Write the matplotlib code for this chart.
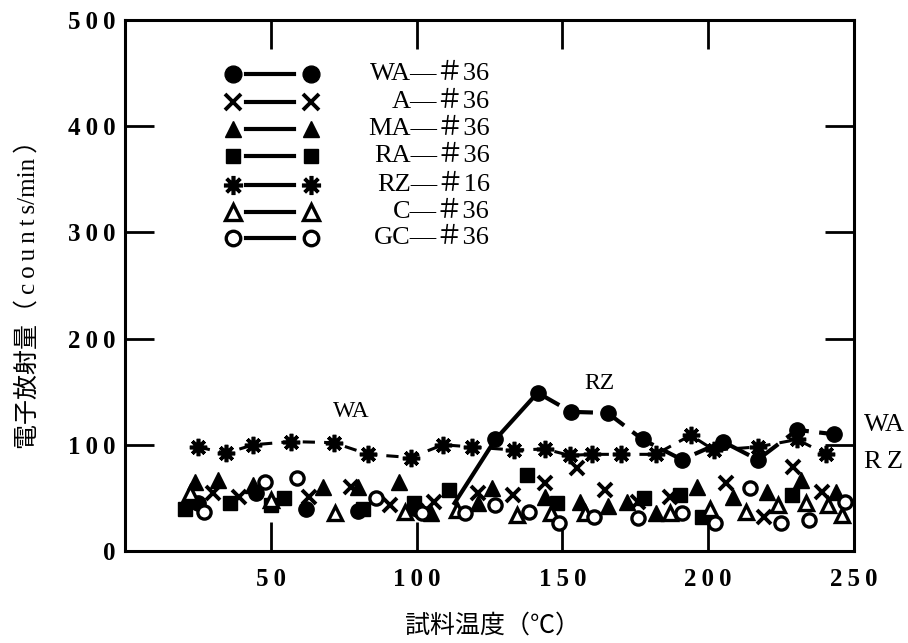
import matplotlib
matplotlib.use('Agg')
import matplotlib.pyplot as plt

plt.rcParams['font.family'] = ['Liberation Serif', 'Noto Sans CJK JP']

# --- data (temperature degC, counts/min) ---
wa_t = [25, 45, 62, 80, 100, 113, 127, 141.5, 153, 165.5, 177.5, 191, 205, 217, 230.5, 243]
wa_v = [45, 55, 40, 38, 40, 45, 105, 149, 131, 130, 105, 86, 103, 86, 114, 110]

rz_t = [25, 34.5, 44, 57, 71.5, 83.5, 98, 109, 119, 133.5, 144, 152.5, 160, 170, 182, 194, 202, 217, 230.5, 240.5]
rz_v = [98, 92, 100, 103, 102, 91, 88, 100, 98, 95, 96, 90, 91, 91, 91, 109, 95, 98, 105, 91]

a_t = [30, 39, 63, 77.6, 91, 106, 121, 133, 144, 155, 164.5, 176, 187, 206, 219, 229, 239]
a_v = [55, 51, 51, 60, 43, 46, 55, 53, 64, 78, 57, 46, 51, 64, 32, 79, 56]

ma_t = [24, 32, 44, 68, 80, 94, 105, 121, 126, 144, 156, 165.5, 172, 182, 196, 208.6, 220, 231.7, 244]
ma_v = [65, 67, 62, 60, 60, 65, 36, 45, 59, 51, 46, 42, 46, 36, 60, 51, 56, 67, 56]

ra_t = [20.7, 36, 50, 54.5, 81.7, 99, 111, 138, 148, 178, 190.5, 198, 228.6]
ra_v = [40, 45, 43, 50, 40, 45, 57, 72, 45, 50, 53, 32, 53]

c_t = [22.4, 50, 72, 96, 114, 134.5, 146, 157.6, 187, 200.7, 213, 224, 233.4, 241, 246]
c_v = [55, 48, 36, 37, 39, 34, 36, 36, 36, 40, 37, 43, 45, 43, 34]

gc_t = [27, 48, 59, 86, 102, 116.5, 127, 138.6, 149, 161, 176, 191, 202.4, 214.5, 225, 234.5, 247]
gc_v = [37, 65, 69, 50, 36, 36, 43, 37, 26, 32, 31, 36, 26, 59, 26, 29, 46]

legend_labels = ['WA\u2014＃36', 'A\u2014＃36', 'MA\u2014＃36', 'RA\u2014＃36',
                 'RZ\u2014＃16', 'C\u2014＃36', 'GC\u2014＃36']
xticks = [50, 100, 150, 200, 250]
yticks = [0, 100, 200, 300, 400, 500]

# marker styles
st_wa = dict(marker='o', ms=11, mfc='black', mec='black')
st_a = dict(marker='x', ms=10, mec='black', mew=2.8)
st_ma = dict(marker='^', ms=11, mfc='black', mec='black')
st_ra = dict(marker='s', ms=9.5, mfc='black', mec='black')
st_rz = dict(marker=(8, 2, 0), ms=12.5, mec='black', mew=2.6)
st_c = dict(marker='^', ms=10.5, mfc='white', mec='black', mew=2.4)
st_gc = dict(marker='o', ms=9.5, mfc='white', mec='black', mew=2.4)

fig = plt.figure(figsize=(9.08, 6.43), dpi=100)
ax = fig.add_axes([0.1377, 0.1431, 0.8028, 0.8258])

# low cluster, markers only
ax.plot(a_t, a_v, ls='none', zorder=3, **st_a)
ax.plot(ma_t, ma_v, ls='none', zorder=3, **st_ma)
ax.plot(ra_t, ra_v, ls='none', zorder=3, **st_ra)
ax.plot(c_t, c_v, ls='none', zorder=4, **st_c)
ax.plot(gc_t, gc_v, ls='none', zorder=4, **st_gc)

# WA: solid rise, then dashed
ax.plot(wa_t[:5], wa_v[:5], ls='none', zorder=3, **st_wa)
ax.plot(wa_t[5:8], wa_v[5:8], color='black', lw=3, zorder=5)
ax.plot(wa_t[7:], wa_v[7:], color='black', lw=3, dashes=(6, 2.5), zorder=5)
ax.plot(wa_t[6:], wa_v[6:], ls='none', zorder=6, **st_wa)

# RZ dashed with asterisks
ax.plot(rz_t, rz_v, color='black', lw=2.2, dashes=(4, 3), zorder=5, **st_rz)

# manual legend
leg_styles = [st_wa, st_a, st_ma, st_ra, st_rz, st_c, st_gc]
leg_y = [449, 422.6, 397, 371.7, 345, 319, 295]
for sty, yy, lab in zip(leg_styles, leg_y, legend_labels):
    s = dict(sty)
    s['ms'] = s['ms'] * 1.1
    ax.plot([41.4, 57.9], [yy, yy], color='black', lw=3)
    ax.plot([37.2, 63.8], [yy, yy], ls='none', **s)
    ax.text(125.2, yy, lab, ha='right', va='center', fontsize=19)

# annotations
ax.text(77.6, 131, 'WA', ha='center', va='center', fontsize=17)
ax.text(162.8, 158, 'RZ', ha='center', va='center', fontsize=17)
ax.text(253.4, 119, 'WA', ha='left', va='center', fontsize=19, clip_on=False)
ax.text(253.4, 84, 'R\u2009Z', ha='left', va='center', fontsize=19, clip_on=False)

ax.set_xlim(0, 250)
ax.set_ylim(0, 500)
ax.set_xticks(xticks)
ax.set_xticklabels(['\u2009'.join(str(v)) for v in xticks])
ax.set_yticks(yticks)
ax.set_yticklabels(['\u2009'.join(str(v)) for v in yticks])
ax.tick_params(direction='in', length=21, width=2, top=True, right=True,
               labelsize=18)
ax.tick_params(axis='x', pad=12)
ax.tick_params(axis='y', pad=7)
for lbl in ax.get_xticklabels() + ax.get_yticklabels():
    lbl.set_fontweight('bold')
for sp in ax.spines.values():
    sp.set_linewidth(2.2)

fig.text(28 / 908, 1 - 288 / 643,
         '電子放射量（\u2009' + '\u2009'.join('counts') + '/min\u2009）',
         rotation=90, ha='center', va='center', fontsize=18)
fig.text(492 / 908, 1 - 626 / 643, '試料温度（℃）', ha='center', va='center',
         fontsize=18)

fig.savefig('out.png', dpi=100)
